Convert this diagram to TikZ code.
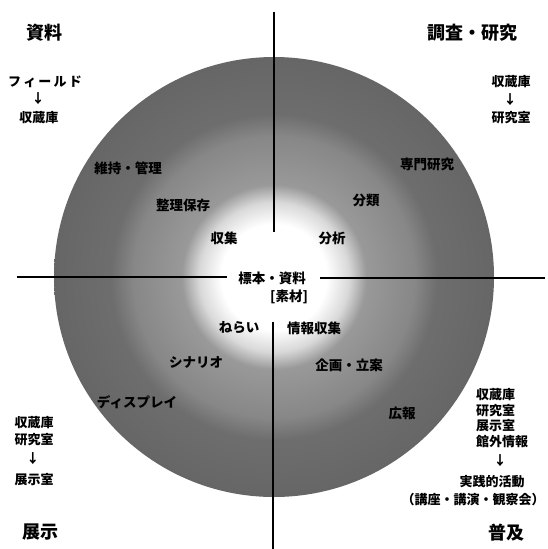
\documentclass[tikz,border=0pt]{standalone}
\usepackage{fontspec}
\setmainfont{Noto Sans CJK JP}
\pgfdeclareradialshading{disc}{\pgfpoint{0bp}{0bp}}{color(0bp)=(white); color(6bp)=(white); color(8.5bp)=(black!15); color(10.5bp)=(black!40); color(16bp)=(black!47); color(18.5bp)=(black!57); color(25bp)=(black!60); color(50bp)=(black!60)}
\tikzset{
  title/.style={font=\fontsize{18}{20}\selectfont\bfseries, inner sep=0pt},
  lab/.style={font=\fontsize{13.5}{15}\selectfont\bfseries, inner sep=0pt},
  note/.style={font=\fontsize{13}{15}\selectfont\bfseries, inner sep=0pt},
  axis/.style={line width=1.6pt, black}
}
\begin{document}
\begin{tikzpicture}[x=1pt,y=-1pt]
\useasboundingbox[fill=white] (0,0) rectangle (547,549);
\shade[shading=disc] (274,277) circle[radius=220pt];
% axes
\coordinate (ta) at (274,12);
\coordinate (tb) at (274,232);
\coordinate (ba) at (273,322);
\coordinate (bb) at (273,549);
\coordinate (la) at (17,277);
\coordinate (lb) at (227,277);
\coordinate (ra) at (320,278);
\coordinate (rb) at (545,278);
\draw[axis] (ta) -- (tb);
\draw[axis] (ba) -- (bb);
\draw[axis] (la) -- (lb);
\draw[axis] (ra) -- (rb);
% corner titles
\node[title] (t1) at (45,33) {資料};
\node[title] (t2) at (472,33) {調査・研究};
\node[title] (t3) at (40,532) {展示};
\node[title] (t4) at (506,533) {普及};
% top-left notes
\node[note] (n1) at (45,82) {フ\,ィ\,ー\,ル\,ド};
\node[note] (n1a) at (38,99) {↓};
\node[note] (n1b) at (39,118) {収蔵庫};
% top-right notes
\node[note] (n2) at (511,82) {収蔵庫};
\node[note] (n2a) at (510,100) {↓};
\node[note] (n2b) at (511,118) {研究室};
% bottom-left notes
\node[note] (n3) at (34,423) {収蔵庫};
\node[note] (n3b) at (34,440) {研究室};
\node[note] (n3a) at (33,459) {↓};
\node[note] (n3c) at (34,480) {展示室};
% bottom-right notes
\node[note, anchor=west] (n4) at (476,395) {収蔵庫};
\node[note, anchor=west] (n4b) at (476,411) {研究室};
\node[note, anchor=west] (n4c) at (476,426) {展示室};
\node[note, anchor=west] (n4d) at (476,442) {館外情報};
\node[note] (n4a) at (500,461) {↓};
\node[note] (n4e) at (492,482) {実践的活動};
\node[note] (n4f) at (473,500) {（講座・講演・観察会）};
% circle labels
\node[lab] (c1) at (128,168) {維持・管理};
\node[lab] (c2) at (183,205) {整理保存};
\node[lab] (c3) at (224,238) {収集};
\node[lab] (c4) at (427,164) {専門研究};
\node[lab] (c5) at (366,200) {分類};
\node[lab] (c6) at (332,238) {分析};
\node[lab] (c7) at (272,278) {標本・資料};
\node[lab] (c8) at (289,297) {[素材]};
\node[lab] (c9) at (239,328) {ねらい};
\node[lab] (c10) at (314,328) {情報収集};
\node[lab] (c11) at (196,362) {シナリオ};
\node[lab] (c12) at (349,365) {企画・立案};
\node[lab] (c13) at (137,402) {ディスプレイ};
\node[lab] (c14) at (402,413) {広報};
\end{tikzpicture}
\end{document}
